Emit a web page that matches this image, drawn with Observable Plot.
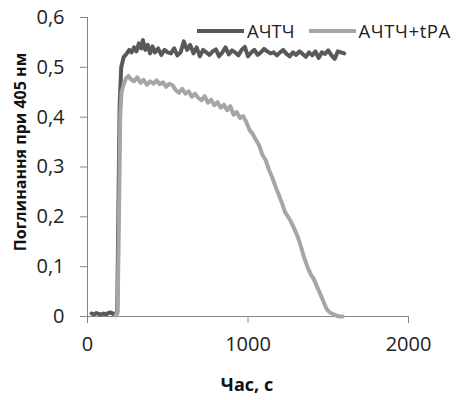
<!DOCTYPE html>
<html>
<head>
<meta charset="utf-8">
<script src="https://cdn.jsdelivr.net/npm/d3@7"></script>
<script src="https://cdn.jsdelivr.net/npm/@observablehq/plot@0.6"></script>
<style>
  html, body { margin: 0; padding: 0; background: #fff; }
  #wrap { position: relative; width: 459px; height: 400px; font-family: "Open Sans", sans-serif; }
  #wrap svg { position: absolute; left: 0; top: 0; }
  .legend { position: absolute; top: 18px; left: 197px; display: flex; align-items: center; font-size: 18.5px; color: #222; white-space: nowrap; }
  .legend .sw { display: inline-block; width: 47px; height: 4px; margin-right: 3px; }
  .legend .item { display: flex; align-items: center; margin-right: 14px; }
  .legend .item + .item { letter-spacing: 0.6px; }
  .ytitle { position: absolute; left: 20px; top: 152px; transform: translate(-50%, -50%) rotate(-90deg); font-weight: bold; font-size: 16px; color: #111; white-space: nowrap; }
  .xtitle { position: absolute; left: 247px; top: 372px; transform: translateX(-50%); font-weight: bold; font-size: 18px; color: #111; white-space: nowrap; }
</style>
</head>
<body>
<div id="wrap"></div>
<script>
// Series names
const seriesNames = ["АЧТЧ", "АЧТЧ+tPA"];
const seriesColors = ["#595959", "#a6a6a6"];

// АЧТЧ (time, s)
const timeA = [25, 40, 55, 70, 85, 100, 115, 130, 145, 160, 175, 185, 192, 200, 210, 225, 245,
  260, 275, 290, 305, 320, 335, 345, 360, 375, 390, 405, 420, 440, 460, 480, 500, 520, 540, 560,
  580, 600, 620, 640, 660, 680, 700, 720, 740, 760, 780, 800, 820, 840, 860, 880, 900, 920, 940,
  960, 980, 1000, 1020, 1040, 1060, 1080, 1100, 1120, 1140, 1160, 1180, 1200, 1220, 1240, 1260,
  1280, 1300, 1320, 1340, 1360, 1380, 1400, 1420, 1440, 1460, 1480, 1500, 1520, 1540, 1560, 1580, 1600];
// АЧТЧ (absorbance)
const valA = [0.006, 0.004, 0.007, 0.005, 0.004, 0.006, 0.004, 0.007, 0.008, 0.005, 0.006, 0.006, 0.2, 0.42, 0.5, 0.52, 0.528,
  0.535, 0.53, 0.54, 0.532, 0.548, 0.538, 0.555, 0.535, 0.545, 0.528, 0.542, 0.53, 0.538, 0.525, 0.535, 0.53, 0.528, 0.538, 0.524,
  0.53, 0.552, 0.535, 0.545, 0.528, 0.54, 0.522, 0.535, 0.53, 0.525, 0.532, 0.536, 0.522, 0.53, 0.54, 0.526, 0.534, 0.53, 0.524,
  0.535, 0.541, 0.522, 0.53, 0.535, 0.525, 0.53, 0.537, 0.532, 0.528, 0.53, 0.524, 0.53, 0.535, 0.527, 0.522,
  0.53, 0.525, 0.532, 0.527, 0.521, 0.53, 0.524, 0.532, 0.519, 0.53, 0.527, 0.534, 0.524, 0.517, 0.532, 0.53, 0.528];

// АЧТЧ+tPA (time, s)
const timeB = [175, 188, 196, 204, 212, 225, 240, 255, 270, 290, 310, 330, 350, 370, 390, 410, 430,
  450, 470, 490, 510, 530, 550, 570, 590, 610, 630, 650, 670, 690, 710, 730, 750, 770, 790, 810,
  830, 850, 870, 890, 910, 930, 950, 970, 990, 1010, 1030, 1050, 1070, 1090, 1110, 1130, 1150,
  1170, 1190, 1210, 1230, 1250, 1270, 1290, 1310, 1330, 1350, 1370, 1390, 1410, 1430, 1450, 1470,
  1490, 1510, 1530, 1550, 1570, 1590];
// АЧТЧ+tPA (absorbance)
const valB = [0.002, 0.01, 0.2, 0.4, 0.45, 0.465, 0.478, 0.483, 0.476, 0.472, 0.48, 0.469, 0.475, 0.465, 0.472, 0.467, 0.474,
  0.466, 0.47, 0.461, 0.467, 0.464, 0.454, 0.449, 0.457, 0.447, 0.452, 0.441, 0.447, 0.439, 0.434, 0.442, 0.429, 0.435, 0.424, 0.43,
  0.419, 0.425, 0.414, 0.422, 0.405, 0.41, 0.398, 0.402, 0.39, 0.374, 0.366, 0.354, 0.343, 0.324, 0.314, 0.295, 0.28,
  0.262, 0.246, 0.229, 0.21, 0.2, 0.189, 0.175, 0.16, 0.14, 0.118, 0.1, 0.085, 0.075, 0.06, 0.045, 0.03,
  0.015, 0.008, 0.005, 0.002, 0.0, 0.0];

// Axis ticks
const xTicks = [0, 1000, 2000];
const yTicks = [0, 0.1, 0.2, 0.3, 0.4, 0.5, 0.6];
const yTickLabels = ["0", "0,1", "0,2", "0,3", "0,4", "0,5", "0,6"];
const xTitle = "Час, с";
const yTitle = "Поглинання при 405 нм";

const dataA = timeA.map((t, i) => ({t, v: valA[i]}));
const dataB = timeB.map((t, i) => ({t, v: valB[i]}));

const axisColor = "#868686";

const chart = Plot.plot({
  width: 459,
  height: 400,
  marginLeft: 87,
  marginRight: 51,
  marginTop: 17,
  marginBottom: 84,
  style: {fontFamily: "Open Sans, sans-serif", color: "#222", background: "#fff"},
  x: {domain: [0, 2000]},
  y: {domain: [0, 0.6]},
  marks: [
    Plot.ruleX([0], {stroke: axisColor}),
    Plot.ruleY([0], {stroke: axisColor}),
    Plot.axisY({ticks: yTicks, tickSize: 7, tickPadding: 16, tickFormat: d => yTickLabels[yTicks.indexOf(d)], fontSize: 20, stroke: axisColor, label: null}),
    Plot.axisX({ticks: xTicks, tickSize: 7, tickPadding: 13, tickFormat: d => String(d), fontSize: 20, stroke: axisColor, label: null}),
    Plot.lineY(dataA, {x: "t", y: "v", stroke: seriesColors[0], strokeWidth: 4, strokeLinejoin: "round"}),
    Plot.lineY(dataB, {x: "t", y: "v", stroke: seriesColors[1], strokeWidth: 4, strokeLinejoin: "round"})
  ]
});

const wrap = document.getElementById("wrap");
wrap.appendChild(chart);

const legend = document.createElement("div");
legend.className = "legend";
seriesNames.forEach((name, i) => {
  const item = document.createElement("span");
  item.className = "item";
  const sw = document.createElement("span");
  sw.className = "sw";
  sw.style.background = seriesColors[i];
  item.appendChild(sw);
  item.appendChild(document.createTextNode(name));
  legend.appendChild(item);
});
wrap.appendChild(legend);

const yt = document.createElement("div");
yt.className = "ytitle";
yt.textContent = yTitle;
wrap.appendChild(yt);

const xt = document.createElement("div");
xt.className = "xtitle";
xt.textContent = xTitle;
wrap.appendChild(xt);
</script>
</body>
</html>
